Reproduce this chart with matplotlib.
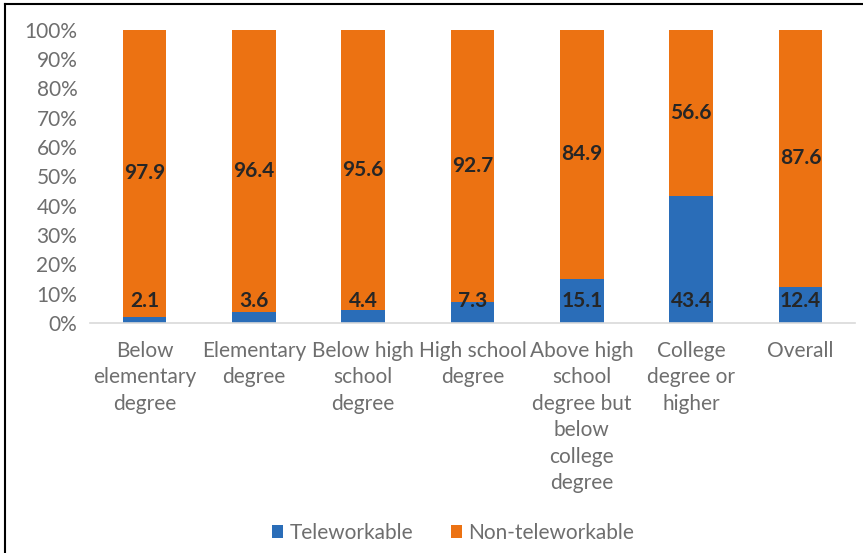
import matplotlib.pyplot as plt
from matplotlib.lines import Line2D
from matplotlib.ticker import PercentFormatter

plt.rcParams['font.family'] = ['Lato', 'DejaVu Sans']

categories = ["Below\nelementary\ndegree", "Elementary\ndegree", "Below high\nschool\ndegree",
              "High school\ndegree", "Above high\nschool\ndegree but\nbelow\ncollege\ndegree",
              "College\ndegree or\nhigher", "Overall"]
teleworkable = [2.1, 3.6, 4.4, 7.3, 15.1, 43.4, 12.4]
non_teleworkable = [97.9, 96.4, 95.6, 92.7, 84.9, 56.6, 87.6]

blue = "#2A6DB8"
orange = "#EC7212"
grey_text = "#6E6E6E"

fig = plt.figure(figsize=(8.63, 5.53), dpi=100)
ax = fig.add_axes([0.104, 0.416, 0.887, 0.530])

x = range(len(categories))
ax.bar(x, teleworkable, width=0.4, color=blue, label="Teleworkable")
ax.bar(x, non_teleworkable, width=0.4, bottom=teleworkable, color=orange, label="Non-teleworkable")

# labels: blue at inside base, orange centred
for i, (t, n) in enumerate(zip(teleworkable, non_teleworkable)):
    ax.text(i, 4.0, f"{t:.1f}", ha="center", va="bottom", fontsize=15,
            fontweight="bold", color="#262626")
    ax.text(i, t + n / 2, f"{n:.1f}", ha="center", va="center", fontsize=15,
            fontweight="bold", color="#262626")

ax.set_ylim(0, 100)
ax.set_xlim(-0.5, len(categories) - 0.5)
ax.set_yticks(range(0, 101, 10))
ax.yaxis.set_major_formatter(PercentFormatter(decimals=0))
ax.set_xticks(list(x))
ax.set_xticklabels(categories, linespacing=1.4)
ax.tick_params(axis="both", length=0, labelsize=15, colors=grey_text)
ax.tick_params(axis="x", pad=13)
ax.tick_params(axis="y", pad=9)
for side in ["top", "right", "left"]:
    ax.spines[side].set_visible(False)
ax.spines["bottom"].set_color("#D9D9D9")
ax.spines["bottom"].set_linewidth(1.2)

fig.legend(loc="center", bbox_to_anchor=(0.525, 0.036), ncol=2, frameon=False,
           fontsize=15, labelcolor=grey_text, handlelength=0.55, handleheight=0.55,
           handletextpad=0.3, columnspacing=1.8)

# partial frame (left + top edges only)
fig.add_artist(Line2D([0.006, 0.006], [0, 0.992], color="black", lw=1.5, transform=fig.transFigure))
fig.add_artist(Line2D([0.006, 1.0], [0.992, 0.992], color="black", lw=1.5, transform=fig.transFigure))

fig.savefig("out.png", dpi=100)
